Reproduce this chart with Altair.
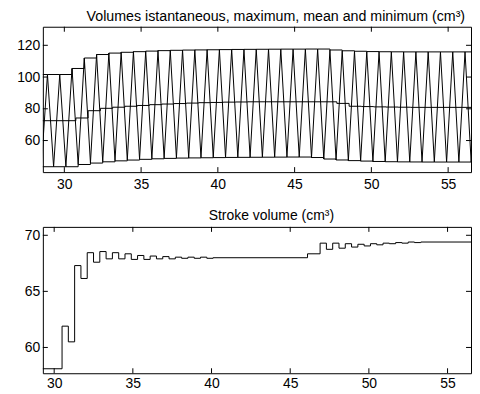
import altair as alt
import pandas as pd

# ---- data ----
# instantaneous volume: maxima (peaks) and minima (troughs) of each beat
peak_t = [28.90, 29.70, 30.50, 31.30, 32.10, 32.90, 33.70, 34.50, 35.30, 36.10,
          36.90, 37.70, 38.50, 39.30, 40.10, 40.90, 41.70, 42.50, 43.30, 44.10,
          44.90, 45.70, 46.50, 47.30, 48.10, 48.90, 49.70, 50.50, 51.30, 52.10,
          52.90, 53.70, 54.50, 55.30, 56.10, 56.90]
peak_v = [101.6, 101.6, 105.4, 112.0, 114.2, 115.1, 115.6, 116.0, 116.35, 116.65,
          116.85, 117.0, 117.1, 117.2, 117.3, 117.4, 117.45, 117.5, 117.55, 117.6,
          117.6, 117.65, 117.65, 117.05, 116.55, 116.25, 116.05, 115.95, 115.9, 115.85,
          115.85, 115.85, 115.85, 115.85, 115.85, 115.85]
trough_t = [28.50, 29.30, 30.10, 30.90, 31.70, 32.50, 33.30, 34.10, 34.90, 35.70,
            36.50, 37.30, 38.10, 38.90, 39.70, 40.50, 41.30, 42.10, 42.90, 43.70,
            44.50, 45.30, 46.10, 46.90, 47.70, 48.50, 49.30, 50.10, 50.90, 51.70,
            52.50, 53.30, 54.10, 54.90, 55.70, 56.50, 57.30]
trough_v = [43.5, 43.5, 43.5, 44.9, 45.8, 46.6, 47.2, 47.7, 48.15, 48.5,
            48.75, 48.95, 49.05, 49.15, 49.25, 49.35, 49.4, 49.45, 49.5, 49.55,
            49.6, 49.6, 49.3, 48.35, 47.75, 47.35, 47.05, 46.8, 46.65, 46.55,
            46.5, 46.45, 46.45, 46.45, 46.45, 46.45, 46.45]
# mean volume (step values)
mean_t = [28.50, 30.75, 31.55, 32.35, 33.15, 33.95, 34.75, 35.55, 36.35, 37.15,
          37.95, 38.75, 39.55, 40.35, 41.15, 41.95, 47.75, 48.55, 49.35, 50.15,
          50.95, 51.75, 52.55, 57.30]
mean_v = [72.5, 74.2, 78.8, 80.3, 81.0, 81.6, 82.1, 82.6, 83.0, 83.3,
          83.6, 83.85, 84.0, 84.2, 84.3, 84.4, 83.4, 81.6, 81.4, 81.2,
          81.1, 81.0, 80.9, 80.9]
# stroke volume (step values)
sv_t = [29.00, 30.50, 30.90, 31.30, 31.70, 32.10, 32.50, 32.90, 33.30, 33.70,
        34.10, 34.50, 34.90, 35.30, 35.70, 36.10, 36.50, 36.90, 37.30, 37.70,
        38.10, 38.50, 38.90, 39.30, 39.70, 40.10, 46.10, 46.90, 47.30, 47.70,
        48.10, 48.50, 48.90, 49.30, 49.70, 50.10, 50.50, 50.90, 51.30, 51.70,
        52.10, 52.50, 52.90, 53.30, 57.30]
sv_v = [58.1, 61.9, 60.5, 67.3, 66.15, 68.45, 67.6, 68.55, 67.9, 68.45,
        67.9, 68.35, 67.85, 68.2, 67.85, 68.15, 67.9, 68.1, 67.9, 68.05,
        67.95, 68.05, 67.95, 68.05, 67.95, 68.0, 68.35, 69.3, 68.75, 69.3,
        68.85, 69.25, 68.95, 69.2, 69.05, 69.25, 69.15, 69.3, 69.25, 69.35,
        69.3, 69.4, 69.35, 69.4, 69.4]

x_ticks = [30, 35, 40, 45, 50, 55]
top_y_ticks = [60, 80, 100, 120]
bot_y_ticks = [60, 65, 70]

top_title = "Volumes istantaneous, maximum, mean and minimum (cm³)"
bot_title = "Stroke volume (cm³)"

W = 430
H1 = 146
H2 = 147
FONT = "Liberation Sans"

# ---- tables ----
inst = pd.DataFrame({"t": peak_t + trough_t, "v": peak_v + trough_v}).sort_values("t")
maxenv = pd.DataFrame({"t": [28.50] + peak_t + [57.30], "v": [peak_v[0]] + peak_v + [peak_v[-1]]})
minenv = pd.DataFrame({"t": trough_t, "v": trough_v})
meanenv = pd.DataFrame({"t": mean_t, "v": mean_v})
sv = pd.DataFrame({"t": sv_t, "v": sv_v})


def panel(layers_data, xdom, ydom, yticks, H, title, dx, xpad, tsize, toff):
    xs = alt.Scale(domain=xdom, nice=False, zero=False)
    ys = alt.Scale(domain=ydom, nice=False, zero=False)
    xax = alt.Axis(values=x_ticks, title=None, labelPadding=xpad)
    yax = alt.Axis(values=yticks, title=None, labelPadding=3, minExtent=34, maxExtent=34)
    layers = []
    for df, interp in layers_data:
        layers.append(
            alt.Chart(df).mark_line(color="black", strokeWidth=1, clip=True,
                                    interpolate=interp).encode(
                x=alt.X("t:Q", scale=xs, axis=xax),
                y=alt.Y("v:Q", scale=ys, axis=yax),
            )
        )
    xt = pd.DataFrame({"t": x_ticks})
    yt = pd.DataFrame({"v": yticks})
    for y0, y1 in [(H - 5, H), (0, 5)]:
        layers.append(alt.Chart(xt).mark_rule(color="black", strokeWidth=1).encode(
            x=alt.X("t:Q", scale=xs, axis=xax), y=alt.value(y0), y2=alt.value(y1)))
    for x0, x1 in [(0, 5), (W - 5, W)]:
        layers.append(alt.Chart(yt).mark_rule(color="black", strokeWidth=1).encode(
            y=alt.Y("v:Q", scale=ys, axis=yax), x=alt.value(x0), x2=alt.value(x1)))
    return alt.layer(*layers).properties(
        width=W, height=H,
        title=alt.TitleParams(title, fontSize=tsize, font=FONT, fontWeight="normal",
                              color="black", offset=toff, dx=dx, baseline="top"),
    )


top = panel([(inst, "linear"), (maxenv, "step-after"), (minenv, "step-after"),
             (meanenv, "step-after")],
            [28.6, 56.49], [40.1, 131.7], top_y_ticks, H1, top_title, 19, 5.5, 14.3, 2)
bot = panel([(sv, "step-after")], [29.28, 56.49], [57.7, 70.75], bot_y_ticks, H2, bot_title,
            14.5, 3.5, 14, 3.5)

chart = alt.vconcat(top, bot, spacing=16).properties(
    padding={"left": 0, "top": 0, "right": 0, "bottom": -1.5},
    background="white",
).configure_view(stroke="black", strokeWidth=1).configure_axis(
    labelFont=FONT, labelFontSize=14, labelColor="black",
    domain=False, ticks=False, tickSize=0, grid=False,
)

chart.save("out.html", embed_options={"renderer": "svg", "actions": False})
